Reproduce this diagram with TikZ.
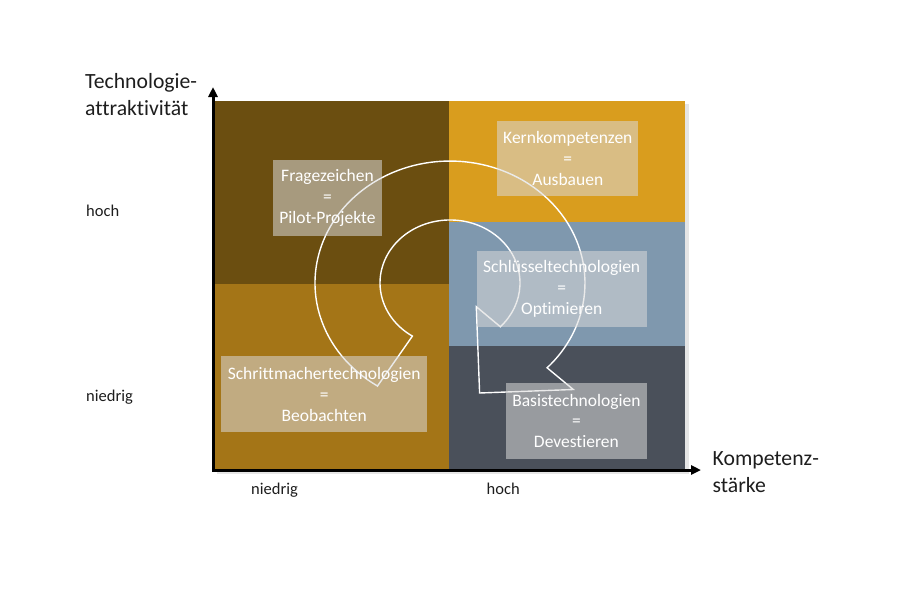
\documentclass[tikz,border=0pt]{standalone}
\usepackage{fontspec}
\setmainfont{Carlito}[Ligatures=NoCommon]
\usetikzlibrary{arrows.meta}
\definecolor{qbrown}{RGB}{107,78,16}
\definecolor{qgold}{RGB}{217,157,30}
\definecolor{qochre}{RGB}{164,117,23}
\definecolor{qblue}{RGB}{127,152,174}
\definecolor{qslate}{RGB}{74,80,90}
\definecolor{boxgray}{RGB}{217,217,217}
\definecolor{txtdark}{RGB}{30,30,30}
\begin{document}
\begin{tikzpicture}[x=1pt,y=1pt,
  infobox/.style={rectangle, inner sep=0pt, fill=boxgray, fill opacity=0.55, text opacity=1, text=white, align=center, font=\fontsize{17.5}{20.8}\selectfont},
  ticklabel/.style={anchor=base west, inner sep=0pt, text=txtdark, font=\fontsize{16.5}{20}\selectfont},
  axtitle/.style={anchor=base west, inner sep=0pt, text=txtdark, font=\fontsize{21.7}{27}\selectfont},
  axisline/.style={line width=3pt, black, line join=miter, {Triangle[length=10pt,width=9pt]}-{Triangle[length=10pt,width=9pt]}},
  cyclearrow/.style={draw=white, line width=1.4pt, line join=miter}
]
\useasboundingbox (0,0) rectangle (900,-600);
\fill[white] (0,0) rectangle (900,-600);
% shadow of the matrix
\fill[black!10] (217,-104) rectangle (689,-474);
% quadrants
\fill[qbrown] (214,-100.5) rectangle (448.7,-284);
\fill[qochre] (214,-284) rectangle (448.7,-469);
\fill[qgold] (448.7,-100.5) rectangle (685,-222);
\fill[qblue] (448.7,-222) rectangle (685,-346);
\fill[qslate] (448.7,-346) rectangle (685,-469);
% circular arrow
\draw[cyclearrow] (377.5,-386) -- (412.4,-336.1)
  arc[start angle=237.5, end angle=-44, x radius=70pt, y radius=63pt]
  -- (476.3,-306.7) -- (479.6,-393) -- (573.3,-389.5) -- (547.1,-367.8)
  arc[start angle=-44, end angle=237.5, x radius=135pt, y radius=122pt]
  -- cycle;
% boxes
\node[infobox, minimum width=108.4pt, minimum height=75.5pt] (frage) at (327.5,-198) {Fragezeichen\\=\\Pilot-Projekte};
\node[infobox, minimum width=141pt, minimum height=75pt] (kern) at (567.8,-158.2) {Kernkompetenzen\\=\\Ausbauen};
\node[infobox, minimum width=170pt, minimum height=76pt] (schluessel) at (561.7,-288.7) {Schlüsseltechnologien\\=\\Optimieren};
\node[infobox, minimum width=205.5pt, minimum height=76pt] (schritt) at (324.2,-394.2) {Schrittmachertechnologien\\=\\Beobachten};
\node[infobox, minimum width=140.5pt, minimum height=75.5pt] (basis) at (576.4,-420.8) {Basistechnologien\\=\\Devestieren};
% axes
\coordinate (ytip) at (213,-87);
\coordinate (origin) at (213,-470);
\coordinate (xtip) at (701,-470);
\draw[axisline] (ytip) -- (origin) -- (xtip);
% labels
\node[axtitle] (ytitle) at (85,-88) {\begin{tabular}[t]{@{}l@{}}Technologie-\\attraktivität\end{tabular}};
\node[axtitle] (xtitle) at (712.5,-465) {\begin{tabular}[t]{@{}l@{}}Kompetenz-\\stärke\end{tabular}};
\node[ticklabel] (yhigh) at (86,-216) {hoch};
\node[ticklabel] (ylow) at (86,-401) {niedrig};
\node[ticklabel] (xlow) at (251,-494) {niedrig};
\node[ticklabel] (xhigh) at (486.5,-494) {hoch};
\end{tikzpicture}
\end{document}
